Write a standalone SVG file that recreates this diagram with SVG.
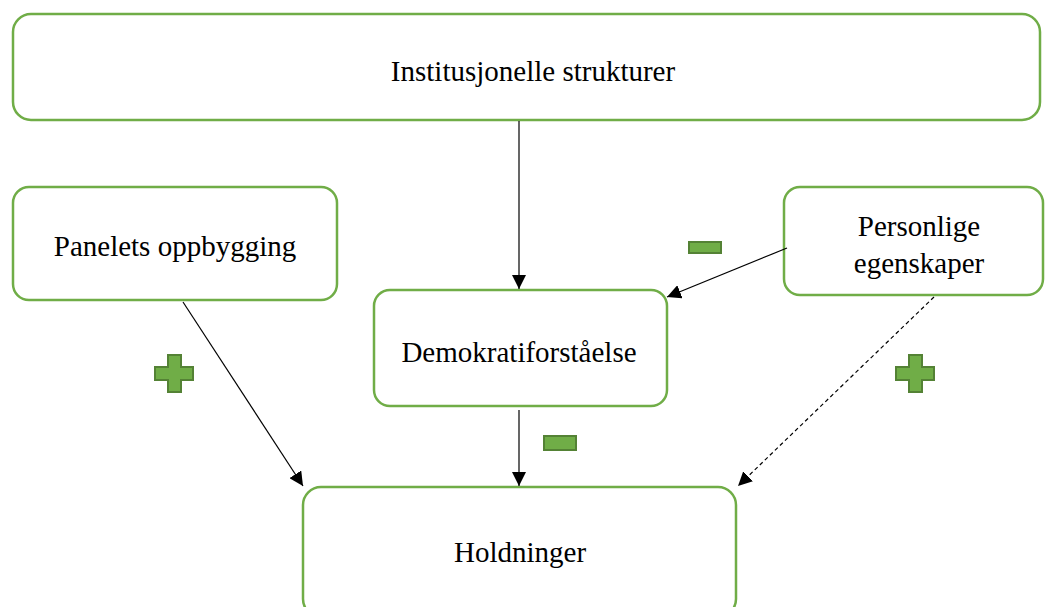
<svg xmlns="http://www.w3.org/2000/svg" width="1045" height="607" viewBox="0 0 1045 607">
<style>
.box{fill:#fff;stroke:#70AD47;stroke-width:2.5}
.t{font-family:"Liberation Serif","Times New Roman",serif;font-size:29px;fill:#000;text-anchor:middle}
.c{stroke:#000;stroke-width:1.2;fill:none}
.sign{fill:#70AD47;stroke:#548235;stroke-width:2}
</style>
<defs>
<marker id="ahb" viewBox="0 0 10 10" refX="10" refY="5" markerWidth="14" markerHeight="14" markerUnits="userSpaceOnUse" orient="auto">
<path d="M0,0 L10,5 L0,10 z" fill="#000"/>
</marker>
</defs>
<g id="n-institusjonelle">
<rect class="box" x="13" y="14" width="1027" height="106" rx="18"/>
<text class="t" x="533" y="81">Institusjonelle strukturer</text>
</g>
<g id="n-panelets">
<rect class="box" x="13" y="187" width="324" height="113" rx="16"/>
<text class="t" x="175" y="256">Panelets oppbygging</text>
</g>
<g id="n-personlige">
<rect class="box" x="784" y="187" width="259" height="108" rx="16"/>
<text class="t" x="919" y="236">Personlige</text>
<text class="t" x="919" y="273">egenskaper</text>
</g>
<g id="n-demokrati">
<rect class="box" x="374" y="290" width="293" height="116" rx="16"/>
<text class="t" x="519" y="362">Demokratiforståelse</text>
</g>
<g id="n-holdninger">
<rect class="box" x="303" y="487" width="433" height="130" rx="18"/>
<text class="t" x="520" y="562">Holdninger</text>
</g>
<g id="connectors">
<line class="c" x1="519" y1="121" x2="519" y2="289" marker-end="url(#ahb)"/>
<line class="c" x1="787" y1="248" x2="667" y2="297" marker-end="url(#ahb)"/>
<line class="c" x1="183" y1="302" x2="303" y2="486" marker-end="url(#ahb)"/>
<line class="c" x1="519" y1="410" x2="519" y2="486" marker-end="url(#ahb)"/>
<line class="c" x1="934" y1="297" x2="738" y2="486" stroke-dasharray="4,3" marker-end="url(#ahb)"/>
</g>
<g id="signs">
<rect class="sign" x="689" y="242" width="32" height="11"/>
<rect class="sign" x="544" y="436" width="32" height="14"/>
<path class="sign" d="M168,355 H181 V367 H193 V380 H181 V392 H168 V380 H155 V367 H168 Z"/>
<path class="sign" d="M909,355 H922 V367 H934 V380 H922 V392 H909 V380 H896 V367 H909 Z"/>
</g>
</svg>
